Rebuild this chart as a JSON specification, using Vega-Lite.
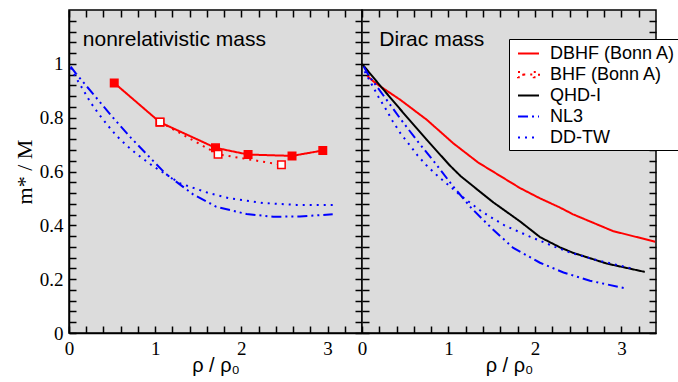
{
  "$schema": "https://vega.github.io/schema/vega-lite/v6.json",
  "padding": {"left": 12, "top": 8, "right": 0, "bottom": 0},
  "background": "white",
  "config": {
    "view": {"fill": "#dcdcdc", "stroke": "black", "strokeWidth": 1.5},
    "axis": {"zindex": 1, "grid": false, "domainColor": "black", "domainWidth": 1.5, "ticks": true, "tickColor": "black", "tickOpacity": 1, "tickWidth": 1.5, "tickSize": -7, "labelColor": "black", "titleColor": "black", "labelFont": "Liberation Serif", "labelFontSize": 19, "labelOverlap": false, "labelFlush": false, "labelPadding": 13}
  },
  "datasets": {
    "curves": [
      {"panel": "nonrel", "series": "DBHF (Bonn A)", "x": 0.525, "y": 0.929},
      {"panel": "nonrel", "series": "DBHF (Bonn A)", "x": 1.055, "y": 0.783},
      {"panel": "nonrel", "series": "DBHF (Bonn A)", "x": 1.70, "y": 0.688},
      {"panel": "nonrel", "series": "DBHF (Bonn A)", "x": 2.078, "y": 0.663},
      {"panel": "nonrel", "series": "DBHF (Bonn A)", "x": 2.588, "y": 0.658},
      {"panel": "nonrel", "series": "DBHF (Bonn A)", "x": 2.945, "y": 0.678},
      {"panel": "nonrel", "series": "BHF (Bonn A)", "x": 1.057, "y": 0.784},
      {"panel": "nonrel", "series": "BHF (Bonn A)", "x": 1.73, "y": 0.664},
      {"panel": "nonrel", "series": "BHF (Bonn A)", "x": 2.465, "y": 0.625},
      {"panel": "nonrel", "series": "NL3", "x": 0.02, "y": 0.99},
      {"panel": "nonrel", "series": "NL3", "x": 0.081, "y": 0.964},
      {"panel": "nonrel", "series": "NL3", "x": 0.293, "y": 0.883},
      {"panel": "nonrel", "series": "NL3", "x": 0.506, "y": 0.802},
      {"panel": "nonrel", "series": "NL3", "x": 0.722, "y": 0.724},
      {"panel": "nonrel", "series": "NL3", "x": 0.942, "y": 0.651},
      {"panel": "nonrel", "series": "NL3", "x": 1.12, "y": 0.592},
      {"panel": "nonrel", "series": "NL3", "x": 1.44, "y": 0.515},
      {"panel": "nonrel", "series": "NL3", "x": 1.71, "y": 0.469},
      {"panel": "nonrel", "series": "NL3", "x": 2.06, "y": 0.442},
      {"panel": "nonrel", "series": "NL3", "x": 2.37, "y": 0.432},
      {"panel": "nonrel", "series": "NL3", "x": 2.68, "y": 0.433},
      {"panel": "nonrel", "series": "NL3", "x": 3.06, "y": 0.441},
      {"panel": "nonrel", "series": "DD-TW", "x": 0.02, "y": 0.985},
      {"panel": "nonrel", "series": "DD-TW", "x": 0.08, "y": 0.949},
      {"panel": "nonrel", "series": "DD-TW", "x": 0.166, "y": 0.903},
      {"panel": "nonrel", "series": "DD-TW", "x": 0.247, "y": 0.858},
      {"panel": "nonrel", "series": "DD-TW", "x": 0.34, "y": 0.816},
      {"panel": "nonrel", "series": "DD-TW", "x": 0.44, "y": 0.775},
      {"panel": "nonrel", "series": "DD-TW", "x": 0.548, "y": 0.734},
      {"panel": "nonrel", "series": "DD-TW", "x": 0.66, "y": 0.699},
      {"panel": "nonrel", "series": "DD-TW", "x": 0.79, "y": 0.664},
      {"panel": "nonrel", "series": "DD-TW", "x": 0.923, "y": 0.632},
      {"panel": "nonrel", "series": "DD-TW", "x": 0.988, "y": 0.617},
      {"panel": "nonrel", "series": "DD-TW", "x": 1.29, "y": 0.556},
      {"panel": "nonrel", "series": "DD-TW", "x": 1.63, "y": 0.519},
      {"panel": "nonrel", "series": "DD-TW", "x": 1.87, "y": 0.5},
      {"panel": "nonrel", "series": "DD-TW", "x": 2.25, "y": 0.483},
      {"panel": "nonrel", "series": "DD-TW", "x": 2.64, "y": 0.476},
      {"panel": "nonrel", "series": "DD-TW", "x": 3.1, "y": 0.476},
      {"panel": "dirac", "series": "DBHF (Bonn A)", "x": 0.06, "y": 0.955},
      {"panel": "dirac", "series": "DBHF (Bonn A)", "x": 0.15, "y": 0.93},
      {"panel": "dirac", "series": "DBHF (Bonn A)", "x": 0.25, "y": 0.908},
      {"panel": "dirac", "series": "DBHF (Bonn A)", "x": 0.44, "y": 0.867},
      {"panel": "dirac", "series": "DBHF (Bonn A)", "x": 0.75, "y": 0.792},
      {"panel": "dirac", "series": "DBHF (Bonn A)", "x": 1.055, "y": 0.705},
      {"panel": "dirac", "series": "DBHF (Bonn A)", "x": 1.345, "y": 0.633},
      {"panel": "dirac", "series": "DBHF (Bonn A)", "x": 1.83, "y": 0.538},
      {"panel": "dirac", "series": "DBHF (Bonn A)", "x": 2.06, "y": 0.5},
      {"panel": "dirac", "series": "DBHF (Bonn A)", "x": 2.29, "y": 0.466},
      {"panel": "dirac", "series": "DBHF (Bonn A)", "x": 2.44, "y": 0.441},
      {"panel": "dirac", "series": "DBHF (Bonn A)", "x": 2.9, "y": 0.379},
      {"panel": "dirac", "series": "DBHF (Bonn A)", "x": 3.39, "y": 0.339},
      {"panel": "dirac", "series": "QHD-I", "x": 0.0, "y": 1.0},
      {"panel": "dirac", "series": "QHD-I", "x": 0.228, "y": 0.912},
      {"panel": "dirac", "series": "QHD-I", "x": 0.477, "y": 0.818},
      {"panel": "dirac", "series": "QHD-I", "x": 0.748, "y": 0.718},
      {"panel": "dirac", "series": "QHD-I", "x": 1.017, "y": 0.622},
      {"panel": "dirac", "series": "QHD-I", "x": 1.14, "y": 0.583},
      {"panel": "dirac", "series": "QHD-I", "x": 1.364, "y": 0.525},
      {"panel": "dirac", "series": "QHD-I", "x": 1.52, "y": 0.485},
      {"panel": "dirac", "series": "QHD-I", "x": 1.83, "y": 0.414},
      {"panel": "dirac", "series": "QHD-I", "x": 2.06, "y": 0.356},
      {"panel": "dirac", "series": "QHD-I", "x": 2.29, "y": 0.318},
      {"panel": "dirac", "series": "QHD-I", "x": 2.44, "y": 0.298},
      {"panel": "dirac", "series": "QHD-I", "x": 2.83, "y": 0.258},
      {"panel": "dirac", "series": "QHD-I", "x": 3.27, "y": 0.227},
      {"panel": "dirac", "series": "NL3", "x": 0.02, "y": 0.99},
      {"panel": "dirac", "series": "NL3", "x": 0.077, "y": 0.957},
      {"panel": "dirac", "series": "NL3", "x": 0.258, "y": 0.878},
      {"panel": "dirac", "series": "NL3", "x": 0.455, "y": 0.791},
      {"panel": "dirac", "series": "NL3", "x": 0.651, "y": 0.709},
      {"panel": "dirac", "series": "NL3", "x": 0.855, "y": 0.628},
      {"panel": "dirac", "series": "NL3", "x": 1.055, "y": 0.544},
      {"panel": "dirac", "series": "NL3", "x": 1.268, "y": 0.463},
      {"panel": "dirac", "series": "NL3", "x": 1.5, "y": 0.389},
      {"panel": "dirac", "series": "NL3", "x": 1.75, "y": 0.316},
      {"panel": "dirac", "series": "NL3", "x": 2.058, "y": 0.261},
      {"panel": "dirac", "series": "NL3", "x": 2.33, "y": 0.225},
      {"panel": "dirac", "series": "NL3", "x": 2.636, "y": 0.194},
      {"panel": "dirac", "series": "NL3", "x": 3.06, "y": 0.165},
      {"panel": "dirac", "series": "DD-TW", "x": 0.03, "y": 0.972},
      {"panel": "dirac", "series": "DD-TW", "x": 0.112, "y": 0.924},
      {"panel": "dirac", "series": "DD-TW", "x": 0.189, "y": 0.878},
      {"panel": "dirac", "series": "DD-TW", "x": 0.277, "y": 0.831},
      {"panel": "dirac", "series": "DD-TW", "x": 0.355, "y": 0.787},
      {"panel": "dirac", "series": "DD-TW", "x": 0.447, "y": 0.741},
      {"panel": "dirac", "series": "DD-TW", "x": 0.547, "y": 0.70},
      {"panel": "dirac", "series": "DD-TW", "x": 0.644, "y": 0.659},
      {"panel": "dirac", "series": "DD-TW", "x": 0.748, "y": 0.622},
      {"panel": "dirac", "series": "DD-TW", "x": 0.87, "y": 0.585},
      {"panel": "dirac", "series": "DD-TW", "x": 1.133, "y": 0.513},
      {"panel": "dirac", "series": "DD-TW", "x": 1.384, "y": 0.451},
      {"panel": "dirac", "series": "DD-TW", "x": 1.653, "y": 0.399},
      {"panel": "dirac", "series": "DD-TW", "x": 1.942, "y": 0.358},
      {"panel": "dirac", "series": "DD-TW", "x": 2.231, "y": 0.32},
      {"panel": "dirac", "series": "DD-TW", "x": 2.405, "y": 0.299},
      {"panel": "dirac", "series": "DD-TW", "x": 2.713, "y": 0.271},
      {"panel": "dirac", "series": "DD-TW", "x": 3.118, "y": 0.24}
    ]
  },
  "spacing": 0,
  "bounds": "flush",
  "resolve": {"scale": {"color": "independent", "strokeDash": "independent"}},
  "hconcat": [
    {
      "width": 293,
      "height": 323,
      "resolve": {"axis": {"x": "independent", "y": "independent"}},
      "layer": [
        {
          "data": {"name": "curves"},
          "transform": [{"filter": "datum.panel == 'nonrel'"}],
          "mark": {"type": "line", "strokeWidth": 2},
          "encoding": {
            "x": {"field": "x", "type": "quantitative", "scale": {"domain": [0, 3.4], "nice": false},
              "axis": {"orient": "bottom", "values": [0,0.2,0.4,0.6,0.8,1,1.2,1.4,1.6,1.8,2,2.2,2.4,2.6,2.8,3,3.2],
                "labelExpr": "datum.value % 1 == 0 ? format(datum.value, 'd') : ''",
                "title": "ρ / ρ₀", "titleFont": "Liberation Sans", "titleFontSize": 20, "titleFontWeight": "normal", "titlePadding": -3}},
            "y": {"field": "y", "type": "quantitative", "scale": {"domain": [0, 1.2], "nice": false},
              "axis": {"orient": "left", "values": [0,0.04,0.08,0.12,0.16,0.2,0.24,0.28,0.32,0.36,0.4,0.44,0.48,0.52,0.56,0.6,0.64,0.68,0.72,0.76,0.8,0.84,0.88,0.92,0.96,1,1.04,1.08,1.12,1.16],
                "labelExpr": "abs(datum.value*5 - round(datum.value*5)) < 0.000001 && datum.value < 1.1 ? format(datum.value, '.1~f') : ''",
                "title": "m* / M", "titleFont": "Liberation Serif", "titleFontSize": 22, "titleFontWeight": "normal", "titlePadding": 3}},
            "color": {"field": "series", "type": "nominal", "legend": null,
              "scale": {"domain": ["DBHF (Bonn A)", "BHF (Bonn A)", "QHD-I", "NL3", "DD-TW"], "range": ["#ff0000", "#ff0000", "#000000", "#0000ff", "#0000ff"]}},
            "strokeDash": {"field": "series", "type": "nominal", "legend": null,
              "scale": {"domain": ["DBHF (Bonn A)", "BHF (Bonn A)", "QHD-I", "NL3", "DD-TW"], "range": [[1, 0], [2, 5], [1, 0], [10, 4, 2, 4, 2, 4], [2, 5]]}}
          }
        },
        {
          "data": {"name": "curves"},
          "transform": [{"filter": "datum.panel == 'nonrel' && (datum.series == 'DBHF (Bonn A)' || datum.series == 'BHF (Bonn A)')"}],
          "mark": {"type": "point", "shape": "square", "size": 56, "filled": true, "stroke": "#ff0000", "strokeWidth": 1.5, "opacity": 1},
          "encoding": {
            "x": {"field": "x", "type": "quantitative", "scale": {"domain": [0, 3.4], "nice": false},
              "axis": {"orient": "top", "values": [0,0.2,0.4,0.6,0.8,1,1.2,1.4,1.6,1.8,2,2.2,2.4,2.6,2.8,3,3.2], "labels": false, "domain": false, "title": null}},
            "y": {"field": "y", "type": "quantitative", "scale": {"domain": [0, 1.2], "nice": false},
              "axis": {"orient": "right", "values": [0,0.04,0.08,0.12,0.16,0.2,0.24,0.28,0.32,0.36,0.4,0.44,0.48,0.52,0.56,0.6,0.64,0.68,0.72,0.76,0.8,0.84,0.88,0.92,0.96,1,1.04,1.08,1.12,1.16], "labels": false, "domain": false, "title": null}},
            "fill": {"condition": {"test": "datum.series == 'BHF (Bonn A)'", "value": "white"}, "value": "#ff0000"}
          }
        },
        {
          "data": {"values": [{}]},
          "mark": {"type": "text", "text": "nonrelativistic mass", "font": "Liberation Sans", "fontSize": 21, "align": "left", "baseline": "alphabetic", "color": "black"},
          "encoding": {
            "x": {"datum": 0.16, "type": "quantitative", "axis": null},
            "y": {"datum": 1.066, "type": "quantitative", "axis": null}
          }
        }
      ]
    },
    {
      "width": 294,
      "height": 323,
      "resolve": {"axis": {"x": "independent", "y": "independent"}},
      "layer": [
        {
          "data": {"name": "curves"},
          "transform": [{"filter": "datum.panel == 'dirac'"}],
          "mark": {"type": "line", "strokeWidth": 2},
          "encoding": {
            "x": {"field": "x", "type": "quantitative", "scale": {"domain": [0, 3.4], "nice": false},
              "axis": {"orient": "bottom", "values": [0,0.2,0.4,0.6,0.8,1,1.2,1.4,1.6,1.8,2,2.2,2.4,2.6,2.8,3,3.2],
                "labelExpr": "datum.value % 1 == 0 ? format(datum.value, 'd') : ''",
                "title": "ρ / ρ₀", "titleFont": "Liberation Sans", "titleFontSize": 20, "titleFontWeight": "normal", "titlePadding": -3}},
            "y": {"field": "y", "type": "quantitative", "scale": {"domain": [0, 1.2], "nice": false},
              "axis": {"orient": "left", "values": [0,0.04,0.08,0.12,0.16,0.2,0.24,0.28,0.32,0.36,0.4,0.44,0.48,0.52,0.56,0.6,0.64,0.68,0.72,0.76,0.8,0.84,0.88,0.92,0.96,1,1.04,1.08,1.12,1.16], "labels": false, "domain": false, "title": null}},
            "color": {"field": "series", "type": "nominal",
              "scale": {"domain": ["DBHF (Bonn A)", "BHF (Bonn A)", "QHD-I", "NL3", "DD-TW"], "range": ["#ff0000", "#ff0000", "#000000", "#0000ff", "#0000ff"]},
              "legend": {"title": null, "orient": "none", "legendX": 147, "legendY": 29, "fillColor": "white", "strokeColor": "black", "padding": 3, "cornerRadius": 0,
                "symbolType": "stroke", "symbolSize": 441, "symbolStrokeWidth": 2, "symbolOffset": 5, "labelFont": "Liberation Sans", "labelFontSize": 18, "labelColor": "black", "labelOffset": 10, "rowPadding": 0,
                "encode": {"symbols": {"update": {"shape": {"signal": "datum.value == 'BHF (Bonn A)' ? 'M-1,-0.25H-0.5V0.25H-1Z M0.5,-0.25H1V0.25H0.5Z M-0.5,0H0.5' : 'stroke'"}}}}}},
            "strokeDash": {"field": "series", "type": "nominal",
              "scale": {"domain": ["DBHF (Bonn A)", "BHF (Bonn A)", "QHD-I", "NL3", "DD-TW"], "range": [[1, 0], [2, 5], [1, 0], [10, 4, 2, 4, 2, 4], [2, 5]]},
              "legend": {"title": null, "orient": "none", "legendX": 147, "legendY": 29, "fillColor": "white", "strokeColor": "black", "padding": 3, "cornerRadius": 0,
                "symbolType": "stroke", "symbolSize": 441, "symbolStrokeWidth": 2, "symbolOffset": 5, "labelFont": "Liberation Sans", "labelFontSize": 18, "labelColor": "black", "labelOffset": 10, "rowPadding": 0}}
          }
        },
        {
          "data": {"values": [{}]},
          "mark": {"type": "text", "text": "Dirac mass", "font": "Liberation Sans", "fontSize": 21, "align": "left", "baseline": "alphabetic", "color": "black"},
          "encoding": {
            "x": {"datum": 0.2, "type": "quantitative", "scale": {"domain": [0, 3.4], "nice": false},
              "axis": {"orient": "top", "values": [0,0.2,0.4,0.6,0.8,1,1.2,1.4,1.6,1.8,2,2.2,2.4,2.6,2.8,3,3.2], "labels": false, "domain": false, "title": null}},
            "y": {"datum": 1.066, "type": "quantitative", "scale": {"domain": [0, 1.2], "nice": false},
              "axis": {"orient": "right", "values": [0,0.04,0.08,0.12,0.16,0.2,0.24,0.28,0.32,0.36,0.4,0.44,0.48,0.52,0.56,0.6,0.64,0.68,0.72,0.76,0.8,0.84,0.88,0.92,0.96,1,1.04,1.08,1.12,1.16], "labels": false, "domain": false, "title": null}}
          }
        }
      ]
    }
  ]
}
